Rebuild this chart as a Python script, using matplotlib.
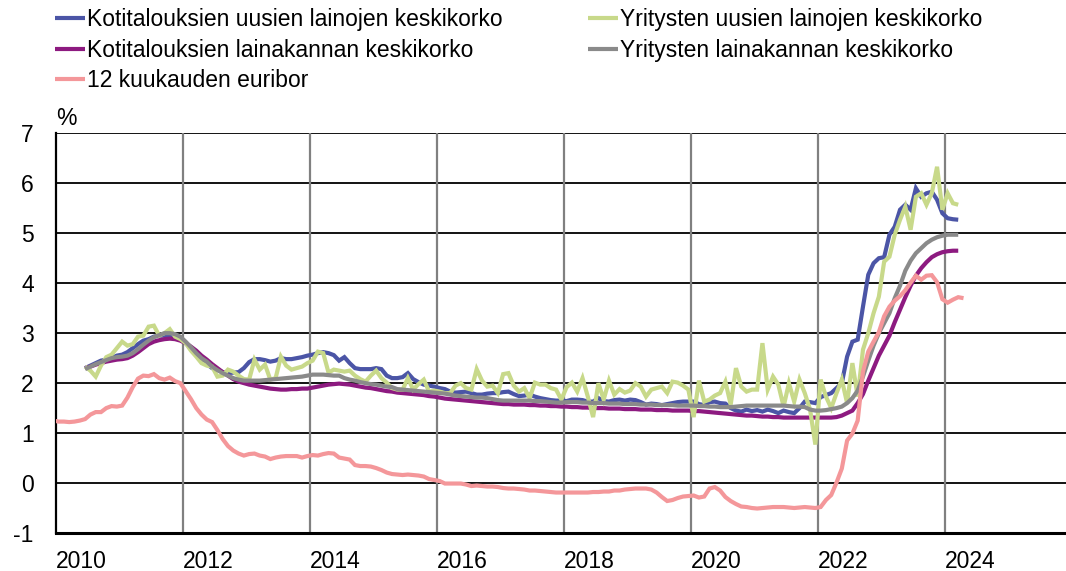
import numpy as np
import matplotlib
matplotlib.use("Agg")
import matplotlib.pyplot as plt

plt.rcParams['font.family'] = ['Liberation Sans', 'DejaVu Sans']

# ---------------- data (monthly, plotted mid-month) ----------------
# Households / companies: Jun 2010 .. Mar 2024 ; Euribor: Dec 2009 .. Apr 2024
start_loans = (2010, 6)
start_euribor = (2009, 12)

hh_new = [
    2.30, 2.35, 2.40, 2.45, 2.47, 2.50, 2.55,                                   # 2010 Jun-Dec
    2.57, 2.62, 2.70, 2.78, 2.85, 2.88, 2.93, 2.95, 2.95, 2.93, 2.90, 2.87,    # 2011
    2.80, 2.70, 2.57, 2.45, 2.38, 2.30, 2.27, 2.22, 2.20, 2.21, 2.22, 2.30,    # 2012
    2.42, 2.48, 2.48, 2.46, 2.43, 2.45, 2.50, 2.48, 2.48, 2.50, 2.52, 2.55,    # 2013
    2.57, 2.60, 2.62, 2.60, 2.56, 2.45, 2.52, 2.40, 2.30, 2.28, 2.28, 2.28,    # 2014
    2.30, 2.28, 2.15, 2.10, 2.10, 2.12, 2.20, 2.08, 2.02, 1.97, 1.95, 1.93,    # 2015
    1.90, 1.88, 1.83, 1.81, 1.82, 1.83, 1.80, 1.77, 1.77, 1.79, 1.80, 1.80,    # 2016
    1.82, 1.83, 1.78, 1.74, 1.75, 1.77, 1.73, 1.70, 1.68, 1.66, 1.65, 1.65,    # 2017
    1.64, 1.67, 1.67, 1.66, 1.63, 1.63, 1.70, 1.64, 1.63, 1.66, 1.67, 1.65,    # 2018
    1.67, 1.66, 1.62, 1.57, 1.59, 1.58, 1.56, 1.58, 1.60, 1.62, 1.63, 1.63,    # 2019
    1.63, 1.58, 1.56, 1.62, 1.63, 1.60, 1.59, 1.50, 1.45, 1.43, 1.47, 1.44,    # 2020
    1.46, 1.43, 1.47, 1.44, 1.40, 1.45, 1.42, 1.40, 1.50, 1.63, 1.62, 1.60,    # 2021
    1.72, 1.76, 1.80, 1.90, 2.00, 2.53, 2.83, 2.87, 3.53, 4.17, 4.40, 4.50,    # 2022
    4.52, 4.97, 5.13, 5.47, 5.57, 5.47, 5.90, 5.73, 5.80, 5.83, 5.67, 5.40,    # 2023
    5.30, 5.28, 5.27,                                                          # 2024
]

co_new = [
    2.33, 2.25, 2.13, 2.35, 2.52, 2.57, 2.70,                                   # 2010
    2.83, 2.75, 2.78, 2.93, 2.95, 3.13, 3.15, 2.95, 3.00, 3.08, 2.93, 2.88,    # 2011
    2.80, 2.65, 2.53, 2.40, 2.35, 2.33, 2.13, 2.15, 2.27, 2.23, 2.15, 2.08,    # 2012
    2.07, 2.47, 2.27, 2.37, 2.07, 2.10, 2.53, 2.35, 2.27, 2.30, 2.33, 2.40,    # 2013
    2.45, 2.63, 2.60, 2.21, 2.27, 2.25, 2.23, 2.25, 2.15, 2.08, 2.03, 2.15,    # 2014
    2.25, 2.10, 2.01, 1.90, 1.87, 1.87, 2.10, 1.87, 1.98, 2.07, 1.83, 1.85,    # 2015
    1.83, 1.80, 1.80, 1.95, 2.00, 1.90, 1.87, 2.28, 2.05, 1.93, 1.95, 1.80,    # 2016
    2.18, 2.20, 1.95, 1.83, 1.90, 1.70, 2.01, 1.97, 1.97, 1.90, 1.87, 1.67,    # 2017
    1.92, 2.01, 1.83, 2.10, 1.73, 1.32, 2.00, 1.67, 2.05, 1.77, 1.88, 1.81,    # 2018
    1.85, 2.00, 1.93, 1.73, 1.87, 1.90, 1.93, 1.80, 2.03, 2.01, 1.95, 1.87,    # 2019
    1.32, 2.05, 1.63, 1.67, 1.75, 1.80, 2.03, 1.57, 2.30, 1.93, 1.83, 1.87,    # 2020
    1.87, 2.80, 1.87, 2.13, 1.97, 1.53, 2.00, 1.63, 2.07, 1.80, 1.47, 0.77,    # 2021
    2.07, 1.73, 1.50, 1.80, 2.07, 1.60, 2.40, 1.73, 2.67, 3.00, 3.40, 3.73,    # 2022
    4.43, 4.53, 4.97, 5.27, 5.53, 5.07, 5.73, 5.80, 5.57, 5.80, 6.33, 5.47,    # 2023
    5.80, 5.60, 5.57,                                                          # 2024
]

hh_stock = [
    2.30, 2.33, 2.37, 2.40, 2.43, 2.45, 2.47,                                   # 2010
    2.48, 2.50, 2.55, 2.62, 2.70, 2.78, 2.83, 2.86, 2.88, 2.89, 2.88, 2.85,    # 2011
    2.80, 2.73, 2.65, 2.55, 2.47, 2.38, 2.30, 2.22, 2.15, 2.08, 2.03, 2.00,    # 2012
    1.97, 1.95, 1.93, 1.91, 1.89, 1.88, 1.87, 1.87, 1.88, 1.88, 1.89, 1.89,    # 2013
    1.91, 1.93, 1.95, 1.97, 1.98, 1.99, 1.98, 1.97, 1.95, 1.93, 1.91, 1.90,    # 2014
    1.88, 1.86, 1.84, 1.83, 1.81, 1.80, 1.79, 1.78, 1.77, 1.76, 1.74, 1.73,    # 2015
    1.71, 1.69, 1.68, 1.67, 1.66, 1.65, 1.64, 1.63, 1.62, 1.61, 1.60, 1.59,    # 2016
    1.58, 1.58, 1.57, 1.57, 1.57, 1.56, 1.56, 1.55, 1.55, 1.54, 1.54, 1.53,    # 2017
    1.53, 1.52, 1.52, 1.51, 1.51, 1.50, 1.50, 1.50, 1.49, 1.49, 1.49, 1.48,    # 2018
    1.48, 1.48, 1.47, 1.47, 1.47, 1.46, 1.46, 1.46, 1.45, 1.45, 1.45, 1.45,    # 2019
    1.44, 1.44, 1.43, 1.42, 1.41, 1.40, 1.39, 1.38, 1.37, 1.36, 1.35, 1.35,    # 2020
    1.34, 1.33, 1.33, 1.32, 1.32, 1.31, 1.31, 1.31, 1.31, 1.31, 1.31, 1.31,    # 2021
    1.31, 1.31, 1.31, 1.32, 1.35, 1.40, 1.45, 1.60, 1.78, 2.05, 2.30, 2.55,    # 2022
    2.75, 2.95, 3.22, 3.47, 3.72, 3.95, 4.15, 4.30, 4.42, 4.52, 4.58, 4.62,    # 2023
    4.64, 4.65, 4.65,                                                          # 2024
]

co_stock = [
    2.28, 2.33, 2.38, 2.42, 2.46, 2.50, 2.52,                                   # 2010
    2.53, 2.55, 2.60, 2.68, 2.77, 2.85, 2.92, 2.96, 3.00, 3.00, 2.98, 2.93,    # 2011
    2.83, 2.72, 2.60, 2.50, 2.43, 2.33, 2.26, 2.20, 2.15, 2.10, 2.07, 2.05,    # 2012
    2.05, 2.05, 2.05, 2.06, 2.07, 2.08, 2.09, 2.10, 2.11, 2.12, 2.13, 2.15,    # 2013
    2.17, 2.17, 2.17, 2.16, 2.15, 2.15, 2.10, 2.07, 2.05, 2.02, 2.00, 1.98,    # 2014
    1.97, 1.95, 1.93, 1.92, 1.88, 1.87, 1.86, 1.85, 1.84, 1.83, 1.82, 1.81,    # 2015
    1.80, 1.79, 1.77, 1.75, 1.74, 1.73, 1.72, 1.71, 1.71, 1.70, 1.68, 1.66,    # 2016
    1.65, 1.65, 1.65, 1.65, 1.65, 1.65, 1.64, 1.64, 1.63, 1.62, 1.61, 1.61,    # 2017
    1.62, 1.62, 1.62, 1.61, 1.61, 1.60, 1.60, 1.60, 1.59, 1.59, 1.59, 1.58,    # 2018
    1.58, 1.58, 1.57, 1.57, 1.57, 1.56, 1.56, 1.56, 1.56, 1.55, 1.55, 1.55,    # 2019
    1.55, 1.54, 1.54, 1.53, 1.53, 1.52, 1.52, 1.52, 1.53, 1.54, 1.55, 1.55,    # 2020
    1.55, 1.55, 1.55, 1.55, 1.55, 1.55, 1.54, 1.53, 1.53, 1.52, 1.47, 1.45,    # 2021
    1.45, 1.46, 1.48, 1.50, 1.53, 1.60, 1.70, 1.85, 2.13, 2.45, 2.75, 3.00,    # 2022
    3.20, 3.40, 3.70, 3.95, 4.25, 4.45, 4.60, 4.70, 4.80, 4.87, 4.92, 4.95,    # 2023
    4.97, 4.97, 4.97,                                                          # 2024
]

euribor = [
    1.25,                                                                      # 2009 Dec
    1.23, 1.23, 1.22, 1.23, 1.25, 1.28, 1.37, 1.42, 1.42, 1.50, 1.54, 1.53,    # 2010
    1.55, 1.71, 1.92, 2.09, 2.15, 2.14, 2.18, 2.10, 2.07, 2.11, 2.04, 2.00,    # 2011
    1.84, 1.68, 1.50, 1.37, 1.27, 1.22, 1.06, 0.88, 0.74, 0.65, 0.59, 0.55,    # 2012
    0.58, 0.59, 0.55, 0.53, 0.48, 0.51, 0.53, 0.54, 0.54, 0.54, 0.51, 0.54,    # 2013
    0.56, 0.55, 0.58, 0.60, 0.59, 0.51, 0.49, 0.47, 0.36, 0.34, 0.34, 0.33,    # 2014
    0.30, 0.26, 0.21, 0.18, 0.17, 0.16, 0.17, 0.16, 0.15, 0.13, 0.08, 0.06,    # 2015
    0.04, -0.01, -0.01, -0.01, -0.01, -0.03, -0.06, -0.05, -0.06, -0.07, -0.07, -0.08,  # 2016
    -0.10, -0.11, -0.11, -0.12, -0.13, -0.15, -0.15, -0.16, -0.17, -0.18, -0.19, -0.19,  # 2017
    -0.19, -0.19, -0.19, -0.19, -0.19, -0.18, -0.18, -0.17, -0.17, -0.15, -0.15, -0.13,  # 2018
    -0.12, -0.11, -0.11, -0.11, -0.13, -0.19, -0.28, -0.36, -0.34, -0.30, -0.27, -0.26,  # 2019
    -0.25, -0.29, -0.27, -0.11, -0.08, -0.15, -0.28, -0.36, -0.42, -0.47, -0.48, -0.50,  # 2020
    -0.51, -0.50, -0.49, -0.48, -0.48, -0.48, -0.49, -0.50, -0.49, -0.48, -0.49, -0.50,  # 2021
    -0.48, -0.34, -0.24, 0.01, 0.29, 0.85, 0.99, 1.25, 2.23, 2.63, 2.83, 3.02,  # 2022
    3.34, 3.53, 3.65, 3.74, 3.86, 4.01, 4.15, 4.07, 4.15, 4.16, 4.02, 3.68,    # 2023
    3.61, 3.67, 3.72, 3.70,                                                    # 2024
]

labels = {
    'hh_new': 'Kotitalouksien uusien lainojen keskikorko',
    'co_new': 'Yritysten uusien lainojen keskikorko',
    'hh_stock': 'Kotitalouksien lainakannan keskikorko',
    'co_stock': 'Yritysten lainakannan keskikorko',
    'euribor': '12 kuukauden euribor',
}
year_ticks = [2010, 2012, 2014, 2016, 2018, 2020, 2022, 2024]
y_ticks = [-1, 0, 1, 2, 3, 4, 5, 6, 7]


def month_axis(start, n):
    y0, m0 = start
    return y0 + (m0 - 1) / 12 + (np.arange(n) + 0.5) / 12


# ---------------- figure ----------------
W, H = 1066, 571
FS = 16.5
fig = plt.figure(figsize=(W / 100, H / 100), dpi=100)
ax = fig.add_axes([56 / W, 1 - 533 / H, 1 - 56 / W, (533 - 133.3) / H])

colors = {
    'hh_new': '#4b55a6',
    'co_new': '#c8d98a',
    'hh_stock': '#8d1a80',
    'co_stock': '#8a8a8a',
    'euribor': '#f4979a',
}
lw = 3.0
lines = {}
for key, data, start, z in [
    ('hh_new', hh_new, start_loans, 3),
    ('hh_stock', hh_stock, start_loans, 4),
    ('co_new', co_new, start_loans, 5),
    ('co_stock', co_stock, start_loans, 6),
    ('euribor', euribor, start_euribor, 7),
]:
    x = month_axis(start, len(data))
    (ln,) = ax.plot(x, data, color=colors[key], lw=lw, zorder=z,
                    solid_joinstyle='miter', solid_capstyle='butt', label=labels[key])
    lines[key] = ln

ax.set_xlim(2010, 2010 + (W - 56) / 63.5)
ax.set_ylim(-1, 7)

# grid
for yv in y_ticks:
    ax.axhline(yv, color='#000000', lw=1.3, zorder=1)
for xv in year_ticks[1:]:
    ax.axvline(xv, color='#808080', lw=1.6, zorder=1)

for s in ['top', 'right']:
    ax.spines[s].set_visible(False)
ax.spines['left'].set_color('black')
ax.spines['left'].set_linewidth(1.6)
ax.spines['bottom'].set_color('black')
ax.spines['bottom'].set_linewidth(2.2)

ax.set_yticks(y_ticks)
ax.set_yticklabels([str(v) for v in y_ticks], fontsize=FS)
ax.tick_params(axis='y', length=0, pad=16)
ax.set_xticks(year_ticks)
ax.set_xticklabels([str(v) for v in year_ticks], fontsize=FS, ha='left')
ax.tick_params(axis='x', length=0, pad=12)

ax.text(0, 1.008, '%', transform=ax.transAxes, ha='left', va='bottom', fontsize=FS)

common = dict(frameon=False, fontsize=FS, handlelength=1.3, handletextpad=0.1,
              labelspacing=0.33, borderpad=0, borderaxespad=0, loc='upper left')
leg1 = fig.legend(handles=[lines['hh_new'], lines['hh_stock'], lines['euribor']],
                  bbox_to_anchor=(55 / W, 1 - 8 / H), **common)
leg2 = fig.legend(handles=[lines['co_new'], lines['co_stock']],
                  bbox_to_anchor=(588 / W, 1 - 8 / H), **common)

fig.savefig('out.png', dpi=100)
